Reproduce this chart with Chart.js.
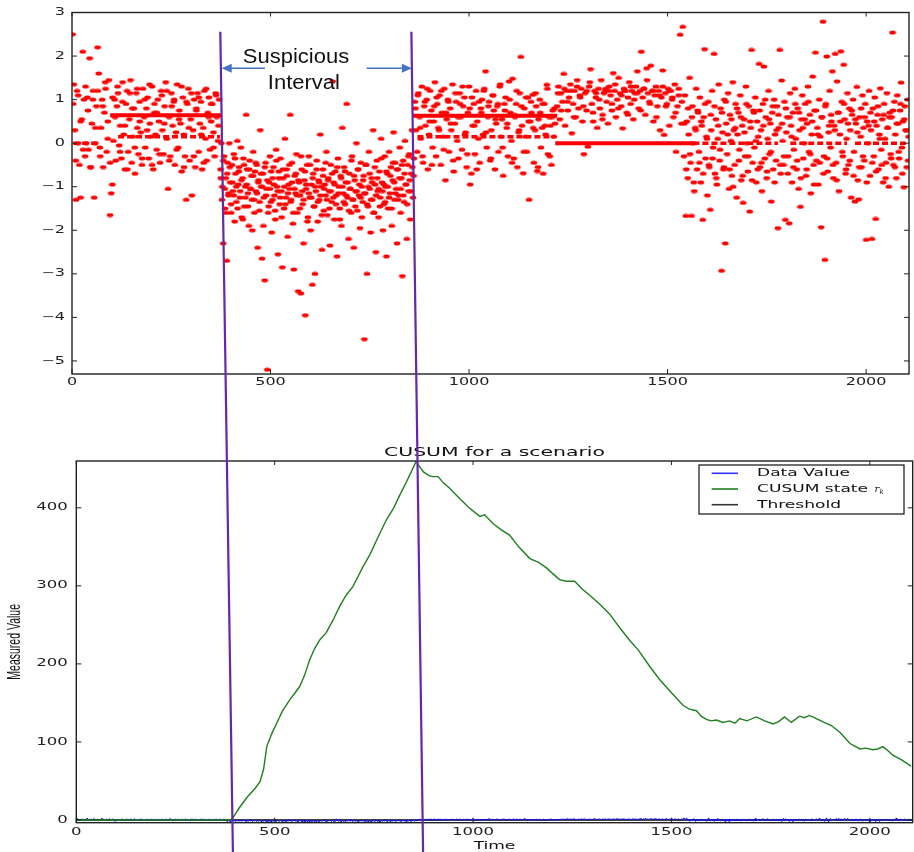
<!DOCTYPE html>
<html>
<head>
<meta charset="utf-8">
<script src="https://cdn.jsdelivr.net/npm/chart.js@4.4.1/dist/chart.umd.min.js"></script>
<style>
  body { margin: 0; background: #fff; }
  #wrap { position: relative; width: 914px; height: 852px; overflow: hidden; }
  #wrap canvas { position: absolute; left: 0; }
</style>
</head>
<body>
<div id="wrap">
  <canvas id="scatterChart" width="914" height="400" style="top:0"></canvas>
  <canvas id="cusumChart" width="914" height="422" style="top:430px"></canvas>
  <canvas id="marks" width="914" height="852" style="top:0; pointer-events:none"></canvas>
</div>
<script>
// ticks
const xTicks = [0, 500, 1000, 1500, 2000];
const topYTicks = [3, 2, 1, 0, -1, -2, -3, -4, -5];
const cusumYTicks = [0, 100, 200, 300, 400];

// raw readings, one block per regime: [first t, last t] and the values in order
const spanA = [0, 372];
const valsA = [
  2.5, 1.35, 0.3, -1.3, 1.2, 0.0, -0.5, -1.25, 0.55, 2.1,
  1.0, -0.3, 0.0, 1.05, -0.15, 1.95, -0.55, 0.45, 1.2, -1.25,
  0.0, 0.85, 2.2, 1.6, -0.1, 0.35, 1.0, -0.55, 0.7, 1.25,
  -0.2, 0.5, 1.45, -1.65, -1.15, -0.95, 0.05, 1.0, -0.4, 0.85,
  1.15, -0.05, 0.4, -0.35, 1.4, 0.2, -0.6, 0.9, 1.2, -0.2,
  0.55, 1.45, -0.45, 0.15, 0.8, -0.7, 1.15, 0.35, -0.25, 0.95,
  0.25, -0.5, 1.25, 0.6, -0.1, 0.8, 1.05, -0.35, 0.45, 0.15,
  1.3, -0.6, 0.7, 0.2, -0.15, 1.0, 0.5, -0.45, 1.2, 0.3,
  -0.25, 0.85, 1.4, 0.1, -1.05, 0.6, -0.3, 1.15, 0.4, 0.95,
  -0.5, 0.25, 1.35, -0.1, 0.75, 0.45, -0.65, 1.05, 0.2, -0.3,
  -1.3, 0.9, 1.25, -0.4, 0.55, -1.2, 0.3, 1.0, -0.55, 0.8,
  1.15, -0.2, 0.45, 0.95, -0.6, 0.35, 1.2, 0.1, -0.4, 0.7,
  1.05, -0.15, 0.5, 0.9, 0.25, -0.3, 1.15, 0.6, 0.05, 1.0
];
const valsA2 = [
  0.9, -0.4, 1.1, 0.5, -0.15, 1.3, 0.75, -0.55, 1.0, 0.35,
  1.2, -0.3, 0.85, 1.4, 0.1, -0.45, 1.05, 0.6, 1.3, -0.2,
  0.95, 0.4, -0.6, 1.15, 0.8, -0.1, 1.25, 0.5, -0.35, 1.0,
  0.3, 1.35, -0.5, 0.9, 0.7, -0.25, 1.1, 0.45, 1.2, -0.4,
  0.85, 1.0, -0.15, 0.55, 1.3, -0.55, 0.95, 0.35, 1.15, -0.3,
  0.75, 1.05, 0.2, -0.45, 1.25, 0.6, 0.9, -0.1, 1.1, 0.4
];
const spanB = [373, 862];
const valsB = [
  -0.6, 0.0, -1.0, -2.3, -0.3, -1.5, -0.8, -2.7, -0.45, -1.2, 0.0, -0.9, -1.6, -0.5, -1.1, -0.25, -1.8, -0.7, -1.35, 0.05,
  -0.95, -0.55, -1.25, -0.1, -1.7, -0.8, -0.35, -1.45, -1.0, 0.65, -0.6, -1.15, -1.9, -0.4, -1.05, -0.75, -2.0, -0.2, -1.3, -0.65,
  -1.1, -0.5, -2.4, -0.85, -1.55, 0.3, -1.0, -2.65, -0.7, -1.25, -3.15, -0.45, -1.05, -5.2, -1.6, -0.9, -0.3, -1.35, -2.05, -0.8,
  -0.55, -1.2, -1.75, -0.15, -1.0, -2.55, -0.65, -1.4, -0.35, -1.1, -2.85, -0.8, -1.5, 0.1, -1.25, -0.6, -2.15, -0.95, -1.05, 0.65,
  -1.3, -0.45, -1.85, -2.9, -0.75, -1.15, -0.25, -1.6, -3.4, -0.9, -1.2, -3.45, -0.6, -1.4, -2.3, -0.85, -3.95, -1.05, -0.5, -1.7,
  -0.3, -1.25, -2.0, -0.95, -3.25, -0.7, -1.45, -3.0, -1.1, -0.4, -1.8, -0.85, -1.3, 0.2, -1.0, -2.45, -0.6, -1.55, -0.95, -1.2,
  -0.2, -1.65, -0.8, -1.1, -2.35, -0.5, -1.35, 1.42, -0.9, -1.75, -0.65, -1.2, -2.6, -0.35, -1.0, -1.5, -0.75, -1.9, 0.35, -1.15,
  -0.55, -1.4, -0.9, 0.9, -1.25, -2.2, -0.7, -1.05, -1.6, -0.3, -1.3, -2.4, -0.85, -1.1, 0.0, -1.55, -0.6, -1.2, -1.95, -0.45,
  -1.0, -1.35, -0.75, -4.5, -1.15, -0.5, -3.0, -1.45, -0.2, -1.05, -2.05, -0.8, -1.3, 0.3, -1.6, -0.95, -2.5, -0.4, -1.1, -1.7,
  -0.65, -1.25, 0.1, -0.9, -2.0, -1.4, -0.3, -1.0, -2.6, -0.7, -1.5, -0.2, -1.15, -0.55, -1.9, -0.85, 0.25, -1.3, -0.45, -1.05,
  -2.3, -0.6, -1.2, -0.1, -1.6, -0.8, -3.05, -0.4, -1.35, 0.05, -0.95, -2.2, -0.5, -1.1, -0.25, -1.75, -0.7, 0.3, -1.25, -0.35
];
const valsB2 = [
  -0.8, -1.3, -0.4, -1.05, -1.6, -0.7, -1.15, -0.55, -1.4, -0.9,
  -1.2, -0.35, -1.0, -1.5, -0.65, -1.1, -0.85, -1.75, -0.5, -1.25,
  -0.95, -1.45, -0.6, -1.05, -1.3, -0.75, -1.6, -0.45, -1.15, -0.9,
  -1.35, -0.7, -1.0, -1.9, -0.55, -1.2, -0.85, -1.45, -1.05, -0.65,
  -1.3, -0.95, -1.55, -0.4, -1.1, -0.8, -1.25, -1.7, -0.6, -1.0,
  -1.4, -0.75, -1.15, -0.5, -1.35, -0.9, -1.6, -1.05, -0.7, -1.2,
  -0.85, -1.5, -0.3, -1.1, -1.3, -0.65, -0.95, -1.8, -1.15, -0.5,
  -1.25, -0.8, -1.45, -1.0, -0.6, -1.35, -0.9, -1.2, -1.65, -0.75,
  -1.05, -0.45, -1.3, -0.85, -1.5, -1.1, -0.7, -1.25, -0.95, -1.4,
  -0.55, -1.15, -1.75, -0.8, -1.0, -1.35, -0.65, -1.2, -0.9, -1.55,
  -1.05, -0.4, -1.3, -0.75, -1.45, -1.1, -0.6, -0.95, -1.25, -1.7,
  -0.85, -1.15, -0.5, -1.4, -1.0, -0.7, -1.3, -0.9, -1.6, -0.55,
  -1.2, -0.8, -1.05, -1.45, -0.35, -1.1, -0.95, -1.35, -0.65, -1.0,
  -1.25, -0.75, -1.5, -0.45, -0.9, -1.15, -0.6, -1.3, -0.8, -1.05,
  -0.5, -1.2, -0.7, -0.95, -1.4, -0.3, -0.85, -1.1, -0.55, -0.75
];
const spanC = [862, 1218];
const valsC = [
  0.95, 0.3, -0.2, 1.15, 0.6, 0.1, 1.3, -0.45, 0.85, 0.4, 1.0, -0.6, 0.2, 1.2, 0.75, -0.1, 0.5, 1.4, -0.3, 0.9,
  0.35, 1.1, -0.5, 0.7, 0.15, 1.25, -0.85, 0.55, 1.0, -0.2, 0.8, 0.3, 1.35, -0.65, 0.45, 0.95, 0.05, -0.35, 1.15, 0.6,
  -0.15, 0.85, 1.05, 0.25, -0.55, 0.7, 1.3, -0.95, -0.7, 0.4, 0.9, -0.25, 1.2, 0.5, 0.1, -0.45, 0.8, 1.0, 0.2, 1.25,
  1.65, -0.1, 0.6, 0.95, -0.4, 0.3, 1.1, 0.75, -0.6, 0.45, 0.85, -0.2, 1.3, 0.15, 0.55, -0.75, 0.9, 1.05, 0.35, -0.3,
  1.42, 0.7, 0.05, 1.48, -0.35, 0.6, 0.9, -0.55, 0.25, 1.15, 1.98, 0.4, -0.69, 0.8, 0.15, -0.2, 1.05, -1.3, 0.5, 0.7,
  1.11, -0.45, 0.3, 0.85, -0.64, 0.55, 1.0, -0.1, 0.35, -0.7, 0.9, 0.2, 1.34, -0.25, 0.6, 0.4, -0.5, 0.75, 0.15, 0.45
];
const valsC2 = [
  0.8, 1.1, 0.35, -0.3, 0.95, 1.25, 0.5, -0.5, 0.85, 1.05,
  0.3, 1.2, -0.15, 0.7, 0.95, 0.45, -0.4, 1.15, 0.6, 0.9,
  1.3, 0.2, -0.25, 0.8, 1.05, 0.4, -0.6, 0.95, 0.7, 1.2,
  0.25, 0.85, -0.35, 1.1, 0.55, 0.9, 1.35, -0.1, 0.75, 0.45,
  1.0, -0.45, 0.65, 1.2, 0.3, 0.85, -0.2, 1.05, 0.5, 0.95,
  0.35, 1.15, -0.55, 0.7, 0.9, 0.4, 1.25, -0.3, 0.6, 0.8
];
const spanD = [1220, 1540];
const valsD = [
  0.85, 1.3, 0.55, 1.15, 0.95, 1.59, 0.4, 1.2, 0.75, 1.05, 1.35, 0.23, 0.9, 1.2, 0.6, 1.45, 0.8, 1.1, 1.25, 0.5,
  -0.25, 1.15, 0.75, -0.08, 1.3, 1.7, 0.9, 0.5, 1.2, 1.05, 0.35, 1.25, 0.8, 1.45, 0.65, 1.15, 1.2, 0.95, 0.45, 1.3,
  1.1, 0.75, 1.61, 1.2, 0.6, 1.0, 1.5, 1.15, 0.85, 0.34, 1.25, 1.2, 0.7, 1.05, 1.4, 0.9, 1.2, 0.55, 1.15, 1.3,
  1.65, 0.8, 1.2, 2.1, 1.05, 1.25, 0.65, 1.72, 1.15, 0.95, 1.78, 1.2, 0.5, 1.1, 1.3, 0.85, 1.2, 0.3, 1.05, 1.67,
  0.19, 1.15, 0.9, 1.25, 0.4, 1.2, 1.0, 0.6, 1.35, -0.2, 0.85, 1.1, 2.49, 0.45, 2.67
];
const valsD2 = [
  1.15, 0.75, 1.25, 0.95, 1.2, 0.6, 1.3, 1.05, 0.85, 1.2,
  1.4, 0.7, 1.15, 1.0, 0.55, 1.25, 1.2, 0.9, 1.35, 0.8,
  1.1, 1.2, 0.65, 1.3, 1.0, 1.15, 0.75, 1.25, 1.45, 0.9,
  1.2, 0.6, 1.1, 1.3, 0.85, 1.2, 1.05, 0.7, 1.25, 0.95
];
const spanE = [1540, 2108];
const valsE = [
  -0.3, 1.1, -1.67, 0.5, -0.8, 0.2, 1.5, -0.45, -1.67, 0.85, 0.0, -1.1, 0.35, 1.25, -0.6, 0.7, -0.2, 1.05, -0.9, 0.4,
  -1.76, 0.6, 2.16, -0.35, 0.15, -1.2, 0.95, -0.55, -1.53, 0.3, 1.2, -0.1, 2.05, -0.7, 0.55, -0.95, 0.1, 1.35, -0.4, 0.8,
  -2.93, 0.25, -0.6, 1.0, -2.3, 0.45, -0.25, 1.15, -1.05, 0.65, 0.05, -0.75, 1.4, 0.3, -0.5, 0.9, -1.25, 0.2, 0.7, -0.15,
  1.1, -0.85, 0.4, -1.37, 0.55, -0.3, 1.3, 0.0, -0.65, 0.85, -1.57, 0.35, 2.14, -0.45, 0.75, -0.1, 1.05, -0.9, 0.5, 0.15,
  1.82, -0.55, 0.3, -1.1, 0.9, 1.76, -0.35, 0.6, -0.8, 0.1, 1.2, -0.25, 0.45, -1.34, 0.7, -0.6, 1.0, 0.2, -0.4, 0.85,
  -1.95, 0.35, 2.14, -0.7, 1.44, 0.05, -0.5, 0.95, -1.76, 0.25, 0.6, -0.3, -1.84, 1.15, 0.4, -0.9, 0.7, -0.15, 1.25, 0.1,
  -0.6, 0.8, -1.05, 0.3, -1.46, 0.55, 1.1, -0.35, 0.0, 0.9, -0.75, 0.45, 1.3, -0.2, 0.65, -1.15, 0.2, 1.53, -0.5, 0.75,
  2.08, -0.4, 0.35, -0.95, 1.0, 0.15, -1.93, 0.6, 2.79, -0.3, -2.68, 0.9, 1.99, -0.65, 0.25, 1.2, -0.1, 0.5, 1.65, -0.8,
  0.4, 2.05, -0.45, 1.42, 0.7, -1.1, 0.2, 2.11, 0.95, -0.3, 1.8, 0.55, -0.7, 0.1, 1.15, -0.5, 0.8, 0.3, -1.25, 0.65,
  1.0, -0.2, -1.34, 0.45, 1.29, -0.85, -1.29, 0.6, 0.15, -0.55, 1.1, 0.35, -0.4, 0.9, -2.22, 0.5, 0.0, 1.2, -0.75, 0.3,
  -2.2, 0.8, -0.3, 1.05, -1.74, 0.4, 0.65, -0.6, 0.2, 1.26, -0.15, 0.55, -0.9, 0.9, 0.1, -0.45, 1.15, 0.35, -1.0, 0.7,
  -0.25, 0.6, 2.54, -0.5, 0.95, 0.2, -0.8, 1.1, 0.45, -0.35, 0.75, 1.39, -0.1, 0.5, -1.01, 0.85, 0.3, -0.55, 1.0, 0.15
];
const valsE2 = [
  0.45, -0.6, 0.8, -0.25, 0.6, -0.9, 0.3, 0.75, -0.45, 0.5,
  -0.7, 0.9, 0.1, -0.5, 0.65, -0.35, 0.85, -0.8, 0.4, -0.15,
  0.7, -0.55, 0.95, 0.2, -0.6, 0.55, -1.0, 0.35, 0.8, -0.4,
  0.6, -0.75, 0.25, 0.9, -0.3, 0.5, -0.85, 0.7, 0.05, -0.6,
  0.75, -0.45, 0.4, 1.0, -0.65, 0.55, -0.2, 0.85, -0.9, 0.3,
  0.65, -0.5, 0.45, -0.3, 0.8, -0.7, 0.6, 0.15, -0.55, 0.9,
  -0.4, 0.7, -0.8, 0.35, 0.55, -0.6, 0.95, -0.25, 0.5, -0.95,
  0.75, 0.2, -0.45, 0.6, -0.7, 0.85, -0.35, 0.4, 0.65, -0.5,
  0.3, -0.85, 0.7, 0.5, -0.2, 0.9, -0.6, 0.45, -0.4, 0.75,
  -0.75, 0.55, 0.25, -0.55, 0.8, -0.3, 0.6, -0.9, 0.4, 0.7,
  -0.45, 0.5, -0.65, 0.85, 0.1, -0.5, 0.65, -0.8, 0.35, 0.6,
  -0.35, 0.75, -0.55, 0.45, -0.2, 0.9, -0.7, 0.55, 0.3, -0.4
];

// long stretches of one repeated reading: [from t, to t, value]
const solidRuns = [[96, 377, 0.64], [858, 1222, 0.63], [1217, 1565, 0]];
const dashedRuns = [[3, 71, 0.0], [116, 373, 0.15], [870, 1215, 0.15], [1565, 1778, 0], [1809, 1952, 0], [1972, 2100, 0]];

// CUSUM statistic
const cusumT = [0, 390, 394, 410, 432, 450, 463, 472, 480, 492, 505, 520, 538, 550, 563, 575, 588, 601, 614, 630,
  647, 665, 680, 697, 710, 723, 740, 760, 782, 800, 815, 828, 845, 857, 862, 875, 890, 899, 912, 925,
  941, 966, 990, 1017, 1029, 1050, 1070, 1092, 1115, 1143, 1165, 1185, 1200, 1218, 1235, 1256, 1275, 1294, 1320, 1344,
  1370, 1395, 1416, 1445, 1470, 1500, 1529, 1545, 1563, 1575, 1588, 1600, 1613, 1630, 1646, 1660, 1672, 1690, 1714, 1735,
  1756, 1770, 1785, 1802, 1823, 1835, 1848, 1865, 1885, 1903, 1925, 1950, 1975, 1990, 2008, 2020, 2033, 2045, 2058, 2080, 2104];
const cusumV = [0, 0, 2, 15, 30, 40, 49, 65, 94, 110, 124, 140, 154, 162, 171, 185, 205, 220, 231, 240,
  256, 275, 288, 299, 312, 325, 340, 362, 385, 400, 416, 429, 447, 460, 455, 446, 441, 440, 440, 432,
  425, 412, 400, 389, 391, 380, 372, 365, 350, 335, 330, 323, 316, 308, 306, 306, 296, 288, 276, 264,
  246, 230, 218, 197, 180, 163, 147, 142, 140, 133, 129, 127, 128, 125, 127, 124, 130, 127, 132, 127,
  123, 126, 132, 125, 133, 131, 134, 130, 125, 121, 112, 98, 91, 92, 90, 91, 94, 89, 83, 77, 69];
const threshold = 0;

// edges of the flagged stretch, drawn across both panels
const intervalEdges = [
  { top: [373.5, 2.56], bottom: [394.7, -41] },
  { top: [854.7, 2.56], bottom: [874, -41] }
];

const T_MAX = 2108;

function toPoints(span, vals) {
  const step = (span[1] - span[0]) / vals.length;
  return vals.map((v, i) => ({ x: span[0] + step * (i + 0.5), y: v }));
}
function runsToLine(runs) {
  const out = [];
  runs.forEach(r => { out.push({ x: r[0], y: r[2] }, { x: r[1], y: r[2] }, { x: r[1], y: null }); });
  return out;
}

const readings = [].concat(
  toPoints(spanA, valsA), toPoints(spanA, valsA2),
  toPoints(spanB, valsB), toPoints(spanB, valsB2),
  toPoints(spanC, valsC), toPoints(spanC, valsC2),
  toPoints(spanD, valsD), toPoints(spanD, valsD2),
  toPoints(spanE, valsE), toPoints(spanE, valsE2)
).sort((a, b) => a.x - b.x);

// flattened red dot
const dot = document.createElement('canvas');
dot.width = 8; dot.height = 5;
(function () {
  const c = dot.getContext('2d');
  c.fillStyle = '#ff0000';
  c.beginPath();
  c.ellipse(4, 2.5, 3.3, 2.0, 0, 0, Math.PI * 2);
  c.fill();
})();

// matplotlib-ish text, stretched sideways
function wideText(ctx, str, x, y, align, font, sx, baseline) {
  ctx.save();
  ctx.font = font;
  ctx.textAlign = align;
  ctx.textBaseline = baseline || 'middle';
  ctx.translate(x, y);
  ctx.scale(sx, 1);
  ctx.fillText(str, 0, 0);
  ctx.restore();
}
function fmt(v) { return v < 0 ? '\u2212' + (-v) : String(v); }

function framePlugin(cfg) {
  return {
    id: 'frame',
    afterDraw(chart) {
      const { ctx, chartArea: a, scales } = chart;
      const xs = scales.x, ys = scales.y;
      ctx.save();
      ctx.strokeStyle = '#222';
      ctx.lineWidth = 1.4;
      ctx.strokeRect(a.left, a.top, a.right - a.left, a.bottom - a.top);
      ctx.lineWidth = 1;
      ctx.beginPath();
      cfg.xTicks.forEach(v => {
        const p = xs.getPixelForValue(v);
        ctx.moveTo(p, a.bottom); ctx.lineTo(p, a.bottom - 5);
        ctx.moveTo(p, a.top); ctx.lineTo(p, a.top + 4);
      });
      cfg.yTicks.forEach(v => {
        const p = ys.getPixelForValue(v);
        ctx.moveTo(a.left, p); ctx.lineTo(a.left + 5, p);
        ctx.moveTo(a.right, p); ctx.lineTo(a.right - 5, p);
      });
      ctx.stroke();
      ctx.fillStyle = '#222';
      cfg.xTicks.forEach(v => wideText(ctx, fmt(v), xs.getPixelForValue(v), a.bottom + cfg.xGap, 'center', cfg.font, cfg.sx));
      cfg.yTicks.forEach(v => wideText(ctx, fmt(v), a.left - cfg.yGap, ys.getPixelForValue(v), 'right', cfg.font, cfg.sx));
      ctx.restore();
    }
  };
}

const notes = {
  font: '20px "Liberation Sans", Arial, sans-serif',
  lines: [['Suspicious', 564, 1.85], ['Interval', 584, 1.24]],
  arrows: [[486, 377, 1.72], [742, 856, 1.72]]
};

const notePlugin = {
  id: 'notes',
  afterDraw(chart) {
    const { ctx, scales: { x, y } } = chart;
    ctx.save();
    ctx.fillStyle = '#111';
    notes.lines.forEach(l => wideText(ctx, l[0], x.getPixelForValue(l[1]), y.getPixelForValue(l[2]), 'center', notes.font, 1.1, 'alphabetic'));
    ctx.strokeStyle = '#4472c4';
    ctx.fillStyle = '#4472c4';
    ctx.lineWidth = 1.5;
    notes.arrows.forEach(a => {
      const x0 = x.getPixelForValue(a[0]), x1 = x.getPixelForValue(a[1]), py = y.getPixelForValue(a[2]);
      const dir = Math.sign(x1 - x0);
      ctx.beginPath();
      ctx.moveTo(x0, py); ctx.lineTo(x1 - dir * 7, py);
      ctx.stroke();
      ctx.beginPath();
      ctx.moveTo(x1, py); ctx.lineTo(x1 - dir * 10, py - 4.5); ctx.lineTo(x1 - dir * 10, py + 4.5);
      ctx.closePath();
      ctx.fill();
    });
    ctx.restore();
  }
};

const scatterChart = new Chart(document.getElementById('scatterChart'), {
  type: 'scatter',
  data: {
    datasets: [
      { data: readings, pointStyle: dot, pointRadius: 3, borderWidth: 0, backgroundColor: '#ff0000' },
      { data: runsToLine(solidRuns), showLine: true, spanGaps: false, borderColor: '#ff0000', borderWidth: 4, pointRadius: 0 },
      { data: runsToLine(dashedRuns), showLine: true, spanGaps: false, borderColor: '#ff0000', borderWidth: 3.5, borderDash: [6, 3], pointRadius: 0 }
    ]
  },
  options: {
    responsive: false,
    animation: false,
    events: [],
    layout: { padding: { top: 12.5, right: 5, left: 0, bottom: 0 } },
    plugins: { legend: { display: false }, tooltip: { enabled: false } },
    scales: {
      x: { type: 'linear', min: 0, max: T_MAX, grid: { display: false, drawTicks: false }, border: { display: false }, ticks: { display: false },
           afterFit: s => { s.height = 26; } },
      y: { type: 'linear', min: -5.3, max: 3, grid: { display: false, drawTicks: false }, border: { display: false }, ticks: { display: false },
           afterFit: s => { s.width = 72; } }
    }
  },
  plugins: [framePlugin({ xTicks, yTicks: topYTicks, font: '10px "DejaVu Sans"', sx: 1.6, xGap: 8, yGap: 7 }), notePlugin]
});

const cusumDecor = {
  id: 'cusumDecor',
  afterDraw(chart) {
    const { ctx, chartArea: a } = chart;
    const cx = (a.left + a.right) / 2;
    ctx.save();
    ctx.fillStyle = '#111';
    wideText(ctx, 'CUSUM for a scenario', cx, a.top - 8.5, 'center', '12px "DejaVu Sans"', 1.7);
    wideText(ctx, 'Time', cx, a.bottom + 23.5, 'center', '11px "DejaVu Sans"', 1.55);

    // y-axis title, rotated
    ctx.save();
    ctx.translate(15.5, (a.top + a.bottom) / 2);
    ctx.scale(1.7, 1);
    ctx.rotate(-Math.PI / 2);
    ctx.font = '10.5px "Liberation Sans", Arial, sans-serif';
    ctx.textAlign = 'center';
    ctx.textBaseline = 'middle';
    ctx.fillText('Measured Value', 0, 0);
    ctx.restore();

    // legend box
    const bw = 205, bh = 49;
    const bx = a.right - 8.7 - bw, by = a.top + 4;
    ctx.fillStyle = '#fff';
    ctx.fillRect(bx, by, bw, bh);
    ctx.strokeStyle = '#111';
    ctx.lineWidth = 1.2;
    ctx.strokeRect(bx, by, bw, bh);
    const items = [['Data Value', '#3030ff'], ['CUSUM state ', '#1f7f1f'], ['Threshold', '#333']];
    items.forEach((it, i) => {
      const ry = by + 8.3 + i * 15.7;
      ctx.strokeStyle = it[1];
      ctx.lineWidth = 1.6;
      ctx.beginPath();
      ctx.moveTo(bx + 12.7, ry); ctx.lineTo(bx + 39, ry);
      ctx.stroke();
      ctx.fillStyle = '#111';
      const font = '11px "DejaVu Sans"';
      wideText(ctx, it[0], bx + 58, ry, 'left', font, 1.55);
      if (i === 1) {
        ctx.font = font;
        const w = ctx.measureText(it[0]).width * 1.55;
        ctx.font = 'italic 10px "DejaVu Serif", serif';
        ctx.textAlign = 'left';
        ctx.textBaseline = 'middle';
        ctx.fillText('r', bx + 58 + w + 1, ry);
        ctx.font = 'italic 7px "DejaVu Serif", serif';
        ctx.fillText('k', bx + 58 + w + 6, ry + 3);
      }
    });
    ctx.restore();
  }
};

const cusumChart = new Chart(document.getElementById('cusumChart'), {
  type: 'scatter',
  data: {
    datasets: [
      { label: 'CUSUM state', order: 1, data: cusumT.map((t, i) => ({ x: t, y: cusumV[i] })), showLine: true, borderColor: '#1f7f1f', borderWidth: 1.4, pointRadius: 0 },
      { label: 'Data Value', order: 2, data: readings, showLine: true, borderColor: '#1010ff', borderWidth: 1, pointRadius: 0 },
      { label: 'Threshold', order: 3, data: [{ x: 0, y: threshold }, { x: T_MAX, y: threshold }], showLine: true, borderColor: '#000', borderWidth: 1.4, pointRadius: 0 }
    ]
  },
  options: {
    responsive: false,
    animation: false,
    events: [],
    layout: { padding: { top: 31, right: 1.3, left: 0, bottom: 0 } },
    plugins: { legend: { display: false }, tooltip: { enabled: false } },
    scales: {
      x: { type: 'linear', min: 0, max: T_MAX, grid: { display: false, drawTicks: false }, border: { display: false }, ticks: { display: false },
           afterFit: s => { s.height = 29.3; } },
      y: { type: 'linear', min: -3.5, max: 460, grid: { display: false, drawTicks: false }, border: { display: false }, ticks: { display: false },
           afterFit: s => { s.width = 76.3; } }
    }
  },
  plugins: [framePlugin({ xTicks, yTicks: cusumYTicks, font: '10px "DejaVu Sans"', sx: 1.65, xGap: 10, yGap: 8.5 }), cusumDecor]
});

// purple interval edges over both panels
const marks = document.getElementById('marks').getContext('2d');
const topOff = document.getElementById('scatterChart').offsetTop;
const botOff = document.getElementById('cusumChart').offsetTop;
marks.strokeStyle = '#6428aa';
marks.lineWidth = 2.2;
intervalEdges.forEach(e => {
  const x0 = scatterChart.scales.x.getPixelForValue(e.top[0]);
  const y0 = scatterChart.scales.y.getPixelForValue(e.top[1]) + topOff;
  const x1 = cusumChart.scales.x.getPixelForValue(e.bottom[0]);
  const y1 = cusumChart.scales.y.getPixelForValue(e.bottom[1]) + botOff;
  marks.beginPath();
  marks.moveTo(x0, y0);
  marks.lineTo(x1, y1);
  marks.stroke();
});
</script>
</body>
</html>
